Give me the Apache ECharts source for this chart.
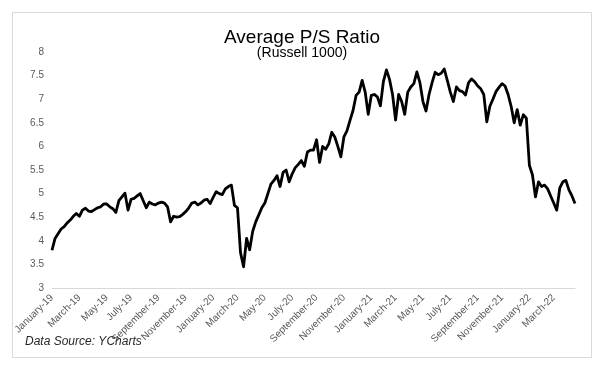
<!DOCTYPE html>
<html>
<head>
<meta charset="utf-8">
<script src="https://cdn.jsdelivr.net/npm/echarts@6/dist/echarts.min.js"></script>
<style>html,body{margin:0;padding:0;background:#fff;}#c{width:604px;height:366px;}</style>
</head>
<body>
<div id="c"></div>
<script>
// Weekly P/S ratio readings, starting 2019-01-01
const startDate = '2019-01-01';
const psValues = [
  3.80, 4.05, 4.15, 4.25, 4.30, 4.38, 4.44, 4.52, 4.58, 4.52,
  4.65, 4.69, 4.63, 4.62, 4.66, 4.70, 4.72, 4.78, 4.78, 4.72,
  4.68, 4.60, 4.85, 4.93, 5.01, 4.65, 4.88, 4.90, 4.95, 5.00,
  4.85, 4.70, 4.82, 4.78, 4.76, 4.80, 4.82, 4.80, 4.72, 4.40,
  4.52, 4.50, 4.51, 4.56, 4.62, 4.70, 4.80, 4.82, 4.76, 4.80,
  4.86, 4.88, 4.79, 4.92, 5.04, 5.00, 4.98, 5.10, 5.15, 5.18,
  4.75, 4.70, 3.75, 3.45, 4.05, 3.81, 4.20, 4.40, 4.55, 4.70,
  4.80, 5.00, 5.20, 5.28, 5.38, 5.15, 5.45, 5.50, 5.25, 5.42,
  5.55, 5.62, 5.70, 5.58, 5.88, 5.92, 5.92, 6.14, 5.66, 6.00,
  5.94, 6.05, 6.30, 6.20, 6.00, 5.78, 6.20, 6.33, 6.55, 6.76,
  7.08, 7.15, 7.40, 7.15, 6.68, 7.08, 7.10, 7.05, 6.86, 7.38,
  7.62, 7.42, 7.10, 6.56, 7.10, 6.95, 6.68, 7.15, 7.26, 7.33,
  7.58, 7.35, 6.95, 6.75, 7.10, 7.35, 7.57, 7.52, 7.55, 7.64,
  7.40, 7.15, 6.95, 7.26, 7.18, 7.16, 7.09, 7.35, 7.43, 7.37,
  7.28, 7.22, 7.10, 6.52, 6.85, 7.00, 7.16, 7.25, 7.33, 7.28,
  7.10, 6.85, 6.50, 6.78, 6.45, 6.67, 6.60, 5.60, 5.40, 4.93,
  5.25, 5.15, 5.18, 5.10, 4.95, 4.80, 4.65, 5.12, 5.25, 5.28,
  5.08, 4.95, 4.79
];
const monthNames = ['January','February','March','April','May','June','July','August','September','October','November','December'];
const tickLabels = ['January-19','March-19','May-19','July-19','September-19','November-19',
  'January-20','March-20','May-20','July-20','September-20','November-20',
  'January-21','March-21','May-21','July-21','September-21','November-21',
  'January-22','March-22'];
const yTicks = [3, 3.5, 4, 4.5, 5, 5.5, 6, 6.5, 7, 7.5, 8];

// Build weekly date categories
const categories = [];
const d0 = new Date(startDate + 'T00:00:00Z');
for (let i = 0; i < psValues.length; i++) {
  const d = new Date(d0.getTime() + i * 7 * 86400000);
  categories.push(d.toISOString().slice(0, 10));
}
function labelFor(dateStr) {
  const y = dateStr.slice(2, 4);
  const m = parseInt(dateStr.slice(5, 7), 10) - 1;
  return monthNames[m] + '-' + y;
}
function showLabel(index) {
  const s = categories[index];
  const day = parseInt(s.slice(8, 10), 10);
  return day <= 7 && tickLabels.indexOf(labelFor(s)) >= 0;
}

const chart = echarts.init(document.getElementById('c'), null, {renderer: 'canvas'});
const font = 'Liberation Sans, Arial, sans-serif';
chart.setOption({
  animation: false,
  backgroundColor: '#fff',
  title: [
    {text: 'Average P/S Ratio', left: 'center', top: 23,
     textStyle: {fontSize: 19, fontWeight: 'normal', color: '#000', fontFamily: font}},
    {text: '(Russell 1000)', left: 'center', top: 41,
     textStyle: {fontSize: 14, fontWeight: 'normal', color: '#000', fontFamily: font}}
  ],
  grid: {left: 52, right: 29, top: 52, bottom: 78, containLabel: false},
  xAxis: {
    type: 'category',
    data: categories,
    boundaryGap: false,
    axisLine: {lineStyle: {color: '#d9d9d9', width: 1}},
    axisTick: {show: false},
    axisLabel: {
      interval: function (index) { return showLabel(index); },
      rotate: 45,
      margin: 8,
      fontSize: 10,
      color: '#595959',
      fontFamily: font,
      formatter: function (v) { return labelFor(v); }
    },
    splitLine: {show: false}
  },
  yAxis: {
    type: 'value',
    min: yTicks[0],
    max: yTicks[yTicks.length - 1],
    interval: 0.5,
    axisLine: {show: false},
    axisTick: {show: false},
    splitLine: {show: false},
    axisLabel: {fontSize: 10, color: '#595959', fontFamily: font, margin: 8}
  },
  series: [{
    type: 'line',
    data: psValues,
    showSymbol: false,
    symbol: 'none',
    lineStyle: {color: '#000', width: 2.8, join: 'round'},
    z: 3
  }],
  graphic: [
    {type: 'rect', shape: {x: 12.5, y: 12.5, width: 579, height: 345},
     style: {fill: 'none', stroke: '#d9d9d9', lineWidth: 1}, silent: true, z: -1},
    {type: 'text', left: 25, top: 336,
     style: {text: 'Data Source: YCharts', fontSize: 12, fontStyle: 'italic',
             fill: '#262626', fontFamily: font}}
  ]
});
</script>
</body>
</html>
